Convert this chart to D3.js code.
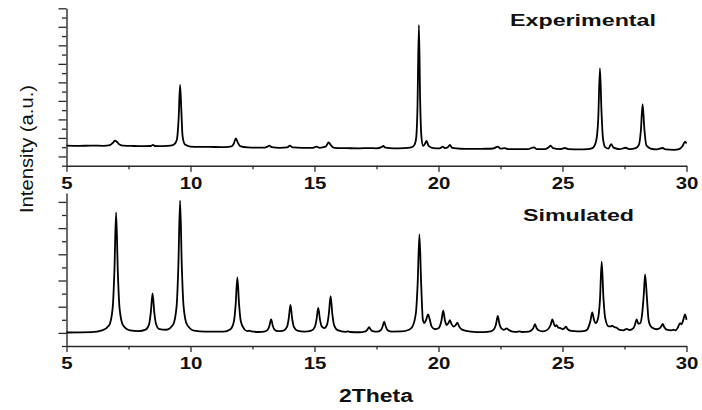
<!DOCTYPE html>
<html><head><meta charset="utf-8">
<script src="https://cdn.jsdelivr.net/npm/d3@7"></script>
<style>
body{margin:0;background:#fff;}
text{font-family:"Liberation Sans",Arial,sans-serif;fill:#111;}
</style></head><body>
<svg id="chart" width="702" height="410"></svg>
<script>
// Powder patterns: [2θ (deg), intensity (a.u.)]
const experimental = [
  [5.0,216],[5.5,214],[6.0,217],[6.5,215],[6.75,222],[6.88,250],[6.95,270],[7.02,262],[7.12,232],[7.3,216],
  [7.7,213],[8.1,212],[8.4,213],[8.49,226],[8.56,213],[8.9,211],[9.2,216],[9.35,232],[9.45,280],[9.52,500],
  [9.58,872],[9.63,600],[9.68,320],[9.78,228],[10.0,206],[10.5,203],[11.0,202],[11.4,201],[11.65,208],[11.75,240],
  [11.83,296],[11.9,255],[12.0,212],[12.3,198],[12.7,195],[13.0,196],[13.1,205],[13.18,216],[13.27,200],[13.6,193],
  [13.9,198],[14.01,216],[14.12,197],[14.5,192],[14.9,192],[15.09,205],[15.2,193],[15.45,205],[15.52,235],[15.57,253],
  [15.65,225],[15.8,192],[16.3,189],[16.8,188],[17.2,190],[17.5,188],[17.7,200],[17.77,213],[17.86,196],[18.2,188],
  [18.6,190],[18.9,198],[19.03,225],[19.1,300],[19.15,600],[19.21,1520],[19.26,700],[19.31,320],[19.38,215],[19.45,235],
  [19.52,267],[19.6,215],[19.8,190],[20.05,188],[20.17,205],[20.26,190],[20.38,200],[20.46,224],[20.55,192],[20.9,183],
  [21.4,182],[21.9,183],[22.2,186],[22.39,205],[22.5,185],[22.68,190],[22.8,180],[23.2,178],[23.6,178],[23.85,199],
  [23.95,180],[24.3,180],[24.45,200],[24.52,216],[24.62,190],[24.9,180],[25.1,191],[25.25,178],[25.7,176],[26.0,178],
  [26.2,190],[26.35,260],[26.44,500],[26.51,1052],[26.57,600],[26.63,300],[26.72,200],[26.85,185],[26.96,234],[27.06,195],
  [27.3,178],[27.55,194],[27.7,178],[27.95,190],[28.08,225],[28.16,380],[28.23,666],[28.3,400],[28.38,220],[28.55,185],
  [28.8,176],[29.04,191],[29.15,176],[29.5,172],[29.7,180],[29.85,215],[29.94,259],[30.0,240]
];

const simulated = [
  [5.0,103],[6.0,106],[6.44,119],[6.72,158],[6.86,287],[6.93,562],[7.00,1020],[7.07,562],[7.14,287],[7.28,158],
  [7.56,119],[7.90,113],[8.19,125],[8.33,166],[8.40,256],[8.47,402],[8.54,256],[8.61,168],[8.75,128],[9.02,124],
  [9.30,164],[9.44,305],[9.51,607],[9.58,1109],[9.65,607],[9.72,305],[9.86,163],[10.14,118],[10.6,110],[11.0,110],
  [11.33,110],[11.61,128],[11.75,187],[11.82,314],[11.89,524],[11.96,314],[12.03,187],[12.17,128],[12.30,114],[12.37,117],
  [12.45,111],[12.75,107],[12.97,110],[13.11,123],[13.18,153],[13.25,204],[13.32,153],[13.39,124],[13.53,113],[13.75,118],
  [13.89,146],[13.96,208],[14.03,313],[14.10,208],[14.17,146],[14.31,117],[14.6,110],[14.87,117],[15.01,144],[15.08,200],
  [15.15,290],[15.22,203],[15.29,150],[15.40,137],[15.51,165],[15.58,248],[15.65,381],[15.72,243],[15.79,160],[15.93,121],
  [16.25,108],[16.34,112],[16.44,107],[16.8,105],[17.06,112],[17.13,124],[17.20,143],[17.27,124],[17.34,113],[17.53,109],
  [17.67,120],[17.74,145],[17.81,185],[17.88,145],[17.95,120],[18.09,110],[18.5,111],[18.81,124],[18.95,148],[19.09,254],
  [19.16,479],[19.23,852],[19.30,480],[19.37,200],[19.43,175],[19.51,205],[19.58,242],[19.65,200],[19.72,150],[19.86,128],
  [20.0,135],[20.12,195],[20.19,269],[20.26,195],[20.33,160],[20.40,175],[20.46,198],[20.53,165],[20.62,148],[20.70,162],
  [20.76,178],[20.83,150],[20.95,125],[21.3,110],[21.8,106],[22.11,112],[22.25,132],[22.32,166],[22.39,229],[22.46,166],
  [22.53,135],[22.62,124],[22.69,128],[22.75,135],[22.82,125],[22.95,112],[23.15,108],[23.26,111],[23.36,107],[23.65,110],
  [23.75,120],[23.82,135],[23.89,166],[23.96,135],[24.03,120],[24.2,112],[24.40,125],[24.52,160],[24.59,204],[24.66,165],
  [24.71,150],[24.76,160],[24.83,140],[24.92,137],[25.00,128],[25.08,135],[25.14,147],[25.21,128],[25.35,115],[25.6,112],
  [25.90,116],[26.0,125],[26.06,150],[26.13,195],[26.20,257],[26.27,200],[26.34,175],[26.42,200],[26.51,350],[26.58,643],
  [26.65,370],[26.72,215],[26.86,150],[26.95,150],[27.00,155],[27.08,145],[27.18,140],[27.28,125],[27.45,120],[27.59,130],
  [27.70,122],[27.85,135],[27.92,160],[27.99,204],[28.06,170],[28.14,175],[28.22,260],[28.28,400],[28.33,547],[28.40,380],
  [28.47,200],[28.53,160],[28.62,140],[28.8,128],[28.92,135],[28.98,150],[29.04,168],[29.10,145],[29.2,125],[29.40,120],
  [29.47,124],[29.55,120],[29.65,140],[29.74,175],[29.80,165],[29.87,200],[29.94,242],[30.0,200]
];

const xTickValues = [5, 7.5, 10, 12.5, 15, 17.5, 20, 22.5, 25, 27.5, 30];
const xMajorLabels = [5, 10, 15, 20, 25, 30];
const panelNames = ["Experimental", "Simulated"];
const xTitle = "2Theta";
const yTitle = "Intensity (a.u.)";

const svg = d3.select("#chart");
const x = d3.scaleLinear().domain([5, 30]).range([66.5, 686.5]);

const panels = [
  { name: panelNames[0], data: experimental,
    y: d3.scaleLinear().domain([0, 1700]).range([165.7, 8.3]), yTicks: d3.range(0, 1701, 100),
    label: { x: 583, y: 25.5, w: 146 } },
  { name: panelNames[1], data: simulated,
    y: d3.scaleLinear().domain([0, 1168]).range([346, 193]), yTicks: d3.range(0, 1101, 100),
    label: { x: 578.5, y: 220.5, w: 111 } }
];

const axisColor = "#2a2a2a";

panels.forEach(p => {
  const yBase = p.y.range()[0];

  // x axis
  const gx = svg.append("g").attr("transform", `translate(0,${yBase})`)
    .call(d3.axisBottom(x).tickValues(xTickValues).tickSizeOuter(0)
      .tickFormat(d => xMajorLabels.includes(d) ? d3.format("d")(d) : ""));
  gx.select(".domain").attr("stroke", axisColor).attr("stroke-width", 1.4);
  gx.selectAll(".tick line").attr("stroke", axisColor).attr("stroke-width", 1.3)
    .attr("y2", d => xMajorLabels.includes(d) ? 6 : 3.5);
  gx.selectAll(".tick text")
    .attr("y", 23.5).attr("dy", null)
    .attr("transform", "scale(1.2,1)")
    .style("font-size", "17px").style("font-weight", "bold").style("fill", "#111");

  // y axis
  const gy = svg.append("g").attr("transform", `translate(${x.range()[0]},0)`)
    .call(d3.axisLeft(p.y).tickValues(p.yTicks).tickSizeOuter(0).tickFormat(""));
  gy.select(".domain").attr("stroke", axisColor).attr("stroke-width", 1.4);
  gy.selectAll(".tick line").attr("stroke", axisColor).attr("stroke-width", 1.3)
    .attr("x2", d => (d / 100) % 2 === 1 ? -8 : -4.5);

  // pattern
  const line = d3.line().x(d => x(d[0])).y(d => p.y(d[1])).curve(d3.curveMonotoneX);
  svg.append("path").datum(p.data)
    .attr("d", line).attr("fill", "none")
    .attr("stroke", "#000").attr("stroke-width", 1.8).attr("stroke-linejoin", "round");

  // panel name
  svg.append("text").attr("x", p.label.x).attr("y", p.label.y)
    .attr("text-anchor", "middle")
    .attr("textLength", p.label.w).attr("lengthAdjust", "spacingAndGlyphs")
    .style("font-size", "16px").style("font-weight", "bold")
    .text(p.name);
});

// axis titles
svg.append("text").attr("x", 376).attr("y", 401.5).attr("text-anchor", "middle")
  .attr("textLength", 74).attr("lengthAdjust", "spacingAndGlyphs")
  .style("font-size", "18px").style("font-weight", "bold").text(xTitle);

svg.append("text")
  .attr("transform", "translate(33,149) rotate(-90)")
  .attr("text-anchor", "middle")
  .attr("textLength", 128).attr("lengthAdjust", "spacingAndGlyphs")
  .style("font-size", "19px").text(yTitle);
</script>
</body></html>
